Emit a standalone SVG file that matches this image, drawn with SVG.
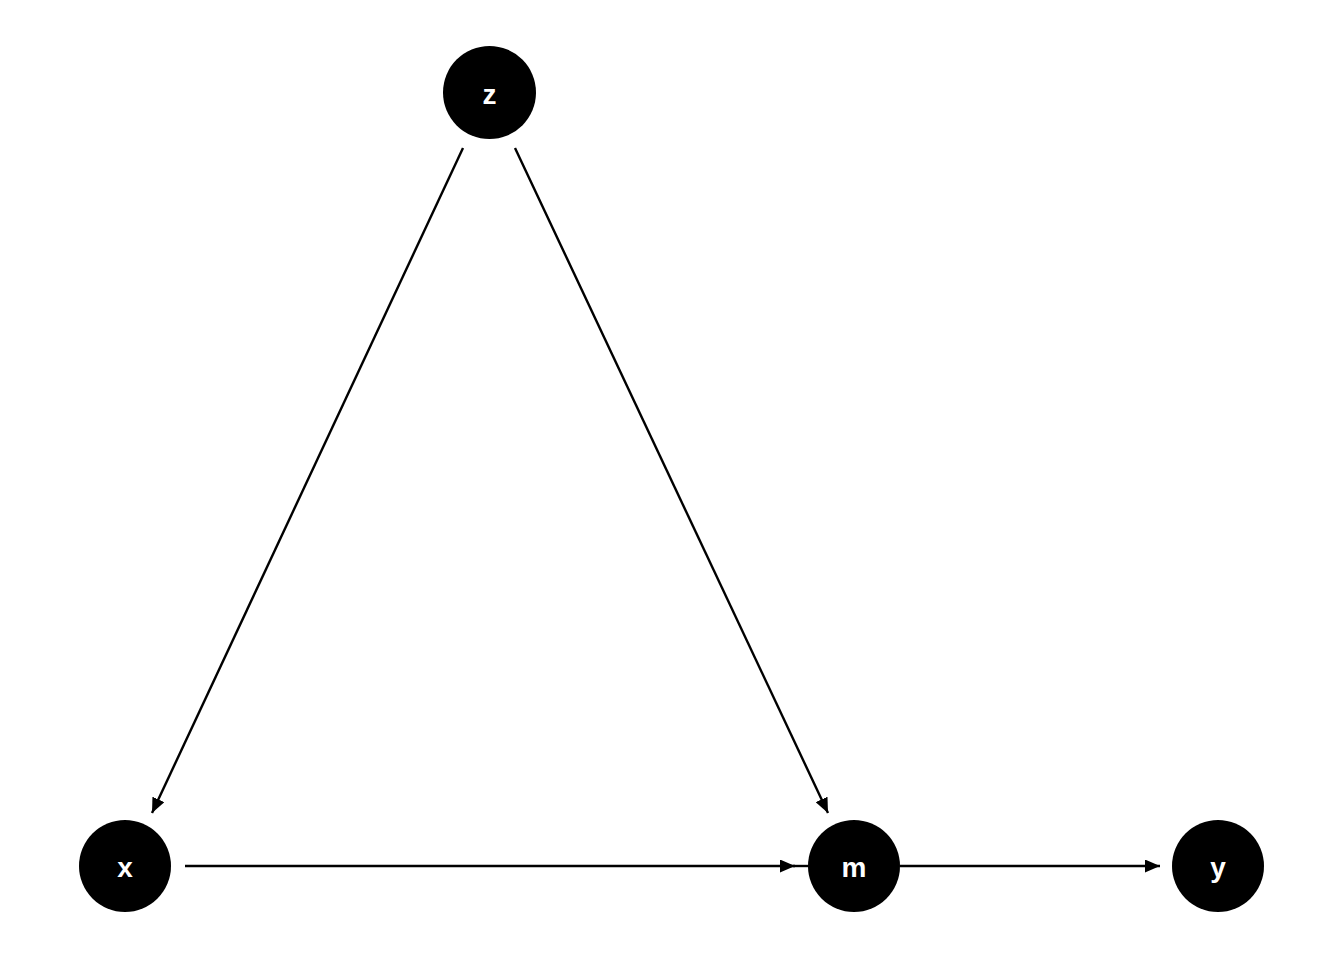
<svg xmlns="http://www.w3.org/2000/svg" width="1344" height="960" viewBox="0 0 1344 960">
<style>
.node{fill:#000}
.lbl{fill:#fff;font-family:"Liberation Sans",Arial,sans-serif;font-weight:bold;font-size:28px;text-anchor:middle}
.edge{stroke:#000;stroke-width:2.4;fill:none}
</style>
<defs>
<marker id="arr" markerUnits="userSpaceOnUse" markerWidth="16" markerHeight="13" refX="15" refY="6.5" orient="auto">
<path d="M0,0 L15,6.5 L0,13 z" fill="#000"/>
</marker>
</defs>
<rect width="1344" height="960" fill="#fff"/>
<g id="edges">
<line class="edge" x1="463" y1="148" x2="152" y2="813" marker-end="url(#arr)"/>
<line class="edge" x1="515" y1="148" x2="828" y2="813" marker-end="url(#arr)"/>
<line class="edge" x1="185" y1="866" x2="795" y2="866" marker-end="url(#arr)"/>
<line class="edge" x1="793" y1="866" x2="809" y2="866"/>
<line class="edge" x1="900" y1="866" x2="1160" y2="866" marker-end="url(#arr)"/>
</g>
<g id="node-z"><circle class="node" cx="489.5" cy="92.5" r="46.5"/><text class="lbl" x="489.5" y="104">z</text></g>
<g id="node-x"><circle class="node" cx="125" cy="866" r="46"/><text class="lbl" x="125" y="877">x</text></g>
<g id="node-m"><circle class="node" cx="854" cy="866" r="46"/><text class="lbl" x="854" y="877">m</text></g>
<g id="node-y"><circle class="node" cx="1218" cy="866" r="46"/><text class="lbl" x="1218" y="877">y</text></g>
</svg>
